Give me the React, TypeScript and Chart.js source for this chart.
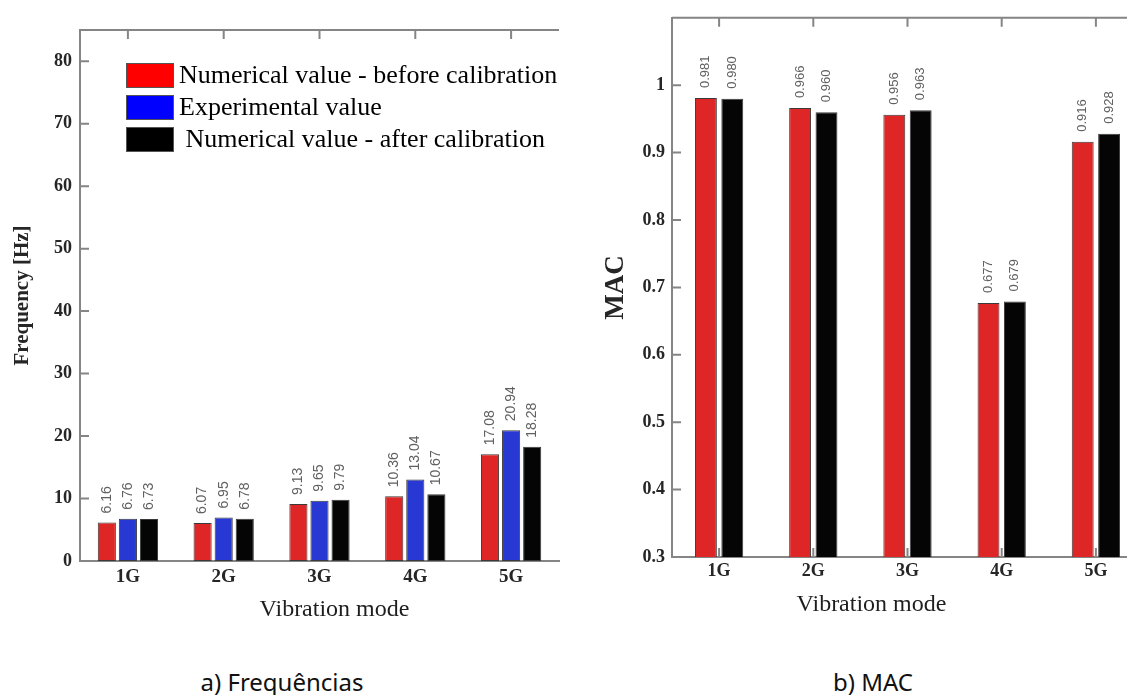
import React, { useEffect, useRef } from 'react';
import { Chart, registerables } from 'chart.js';

Chart.register(...registerables);

// ---------- data ----------
const modes = ['1G', '2G', '3G', '4G', '5G'];

const freqBefore = [6.16, 6.07, 9.13, 10.36, 17.08];
const freqExperimental = [6.76, 6.95, 9.65, 13.04, 20.94];
const freqAfter = [6.73, 6.78, 9.79, 10.67, 18.28];

const macBefore = [0.981, 0.966, 0.956, 0.677, 0.916];
const macAfter = [0.98, 0.96, 0.963, 0.679, 0.928];

const freqTicks = [0, 10, 20, 30, 40, 50, 60, 70, 80];
const macTicks = [0.3, 0.4, 0.5, 0.6, 0.7, 0.8, 0.9, 1.0];

const seriesLabels = [
  'Numerical value - before calibration',
  'Experimental value',
  ' Numerical value - after calibration',
];

// ---------- styles ----------
const BAR_RED = '#df2626';
const BAR_BLUE = '#2838d2';
const BAR_BLACK = '#050505';
const LEGEND_COLORS = ['#ff0000', '#0000ff', '#000000'];
const AXIS_COLOR = '#858585';
const TEXT_COLOR = '#262626';
const SERIF = '"Liberation Serif", "DejaVu Serif", serif';
const SANS = '"Liberation Sans", Arial, sans-serif';

// ---------- plugins ----------
const framePlugin = {
  id: 'frame',
  beforeDatasetsDraw(chart: any, _args: any, opts: any) {
    const { ctx, chartArea } = chart;
    const { left, right, top, bottom } = chartArea;
    const xs = chart.scales.x;
    const ys = chart.scales.y;
    const L = opts.tick;
    ctx.save();
    ctx.strokeStyle = opts.color;
    ctx.lineWidth = opts.width;
    ctx.beginPath();
    ctx.moveTo(left, top);
    ctx.lineTo(right, top);
    ys.ticks.forEach((_t: any, i: number) => {
      const py = ys.getPixelForTick(i);
      ctx.moveTo(left, py);
      ctx.lineTo(left + L, py);
    });
    xs.ticks.forEach((_t: any, i: number) => {
      const px = xs.getPixelForTick(i);
      ctx.moveTo(px, top);
      ctx.lineTo(px, top + L);
      ctx.moveTo(px, bottom);
      ctx.lineTo(px, bottom - L);
    });
    ctx.stroke();
    ctx.restore();
  },
};

const valueLabelsPlugin = {
  id: 'valueLabels',
  afterDatasetsDraw(chart: any, _args: any, opts: any) {
    const ctx = chart.ctx;
    ctx.save();
    ctx.font = opts.font;
    ctx.fillStyle = opts.color;
    ctx.textAlign = 'left';
    ctx.textBaseline = 'middle';
    chart.data.datasets.forEach((ds: any, di: number) => {
      const meta = chart.getDatasetMeta(di);
      meta.data.forEach((el: any, i: number) => {
        const v = ds.data[i];
        ctx.save();
        ctx.translate(el.x, el.y - opts.gap);
        ctx.rotate(-Math.PI / 2);
        ctx.fillText(Number(v).toFixed(opts.decimals), 0, 0);
        ctx.restore();
      });
    });
    ctx.restore();
  },
};

const boxLegendPlugin = {
  id: 'boxLegend',
  afterDraw(chart: any, _args: any, opts: any) {
    if (!opts || !opts.display) return;
    const { ctx, chartArea } = chart;
    ctx.save();
    ctx.font = opts.font;
    ctx.textAlign = 'left';
    ctx.textBaseline = 'middle';
    chart.data.datasets.forEach((ds: any, i: number) => {
      const bx = chartArea.left + opts.x;
      const by = chartArea.top + opts.y + i * opts.rowGap;
      ctx.fillStyle = opts.colors[i];
      ctx.fillRect(bx, by, opts.boxW, opts.boxH);
      ctx.strokeStyle = '#555';
      ctx.lineWidth = 1;
      ctx.strokeRect(bx + 0.5, by + 0.5, opts.boxW - 1, opts.boxH - 1);
      ctx.fillStyle = '#000';
      ctx.fillText(ds.label, bx + opts.boxW + 5, by + opts.boxH / 2 + 1);
    });
    ctx.restore();
  },
};

const xTitlePlugin = {
  id: 'xTitle',
  afterDraw(chart: any, _args: any, opts: any) {
    if (!opts || !opts.text) return;
    const { ctx, chartArea } = chart;
    ctx.save();
    ctx.font = opts.font;
    ctx.fillStyle = opts.color;
    ctx.textAlign = 'center';
    ctx.textBaseline = 'middle';
    ctx.fillText(opts.text, (chartArea.left + chartArea.right) / 2 + opts.dx, chartArea.bottom + opts.dy);
    ctx.restore();
  },
};

const plugins = [framePlugin, valueLabelsPlugin, boxLegendPlugin, xTitlePlugin];

function barDataset(label: string, data: number[], color: string) {
  return {
    label,
    data,
    backgroundColor: color,
    borderColor: '#3a3a3a',
    borderWidth: 1,
    borderSkipped: false,
  };
}

function makeFreqChart(canvas: HTMLCanvasElement) {
  return new Chart(canvas, {
    type: 'bar',
    data: {
      labels: modes,
      datasets: [
        barDataset(seriesLabels[0], freqBefore, BAR_RED),
        barDataset(seriesLabels[1], freqExperimental, BAR_BLUE),
        barDataset(seriesLabels[2], freqAfter, BAR_BLACK),
      ],
    },
    options: {
      responsive: false,
      animation: false,
      devicePixelRatio: 1,
      events: [],
      layout: { padding: { left: 10, top: 30, right: 16, bottom: 0 } },
      datasets: { bar: { categoryPercentage: 0.66, barPercentage: 0.86 } },
      scales: {
        x: {
          type: 'category',
          grid: { display: false, drawTicks: false },
          border: { display: true, color: AXIS_COLOR, width: 2 },
          ticks: { padding: 5, color: TEXT_COLOR, font: { family: SERIF, size: 19, weight: 'bold' } },
          afterFit: (s: any) => { s.height = 79; },
        },
        y: {
          type: 'linear',
          min: 0,
          max: 85,
          afterBuildTicks: (s: any) => { s.ticks = freqTicks.map((v) => ({ value: v })); },
          grid: { display: false, drawTicks: false },
          border: { display: true, color: AXIS_COLOR, width: 2 },
          ticks: { padding: 8, color: TEXT_COLOR, font: { family: SERIF, size: 18, weight: 'bold' } },
          title: {
            display: true,
            text: 'Frequency [Hz]',
            color: TEXT_COLOR,
            padding: 0,
            font: { family: SERIF, size: 21, weight: 'bold' },
          },
          afterFit: (s: any) => { s.width = 70; },
        },
      },
      plugins: {
        legend: { display: false },
        tooltip: { enabled: false },
        frame: { color: AXIS_COLOR, width: 2, tick: 9 },
        valueLabels: { font: `14px ${SANS}`, color: '#606060', gap: 9, decimals: 2 },
        boxLegend: {
          display: true,
          colors: LEGEND_COLORS,
          x: 46, y: 33, rowGap: 32, boxW: 48, boxH: 25,
          font: `26px ${SERIF}`,
        },
        xTitle: { text: 'Vibration mode', font: `24px ${SERIF}`, color: '#1e1e1e', dx: 15, dy: 49 },
      } as any,
    } as any,
    plugins: plugins as any,
  });
}

function makeMacChart(canvas: HTMLCanvasElement) {
  return new Chart(canvas, {
    type: 'bar',
    data: {
      labels: modes,
      datasets: [
        barDataset(seriesLabels[0], macBefore, BAR_RED),
        barDataset(seriesLabels[2], macAfter, BAR_BLACK),
      ],
    },
    options: {
      responsive: false,
      animation: false,
      devicePixelRatio: 1,
      events: [],
      layout: { padding: { left: 25, top: 14, right: 32, bottom: 0 } },
      datasets: { bar: { categoryPercentage: 0.56, barPercentage: 0.83 } },
      scales: {
        x: {
          type: 'category',
          grid: { display: false, drawTicks: false },
          border: { display: true, color: AXIS_COLOR, width: 2 },
          ticks: { padding: 4, color: TEXT_COLOR, font: { family: SERIF, size: 18, weight: 'bold' } },
          afterFit: (s: any) => { s.height = 83; },
        },
        y: {
          type: 'linear',
          min: 0.3,
          max: 1.1,
          afterBuildTicks: (s: any) => { s.ticks = macTicks.map((v) => ({ value: v })); },
          grid: { display: false, drawTicks: false },
          border: { display: true, color: AXIS_COLOR, width: 2 },
          ticks: {
            padding: 7,
            color: TEXT_COLOR,
            font: { family: SERIF, size: 18, weight: 'bold' },
            callback: (v: any) => (Math.abs(v - 1) < 1e-9 ? '1' : Number(v).toFixed(1)),
          },
          title: {
            display: true,
            text: 'MAC',
            color: TEXT_COLOR,
            padding: 0,
            font: { family: SERIF, size: 27, weight: 'bold' },
          },
          afterFit: (s: any) => { s.width = 72; },
        },
      },
      plugins: {
        legend: { display: false },
        tooltip: { enabled: false },
        frame: { color: AXIS_COLOR, width: 2, tick: 9 },
        valueLabels: { font: `13px ${SANS}`, color: '#606060', gap: 10, decimals: 3 },
        boxLegend: { display: false },
        xTitle: { text: 'Vibration mode', font: `24px ${SERIF}`, color: '#1e1e1e', dx: -36, dy: 48 },
      } as any,
    } as any,
    plugins: plugins as any,
  });
}

export default function App() {
  const leftRef = useRef<HTMLCanvasElement | null>(null);
  const rightRef = useRef<HTMLCanvasElement | null>(null);

  useEffect(() => {
    const c1 = leftRef.current ? makeFreqChart(leftRef.current) : null;
    const c2 = rightRef.current ? makeMacChart(rightRef.current) : null;
    return () => {
      if (c1) c1.destroy();
      if (c2) c2.destroy();
    };
  }, []);

  const captionStyle: React.CSSProperties = {
    position: 'absolute',
    top: 668,
    width: 260,
    textAlign: 'center',
    fontFamily: '"Noto Sans", "Open Sans", sans-serif',
    fontSize: 24,
    lineHeight: '28px',
    color: '#111',
  };

  return (
    <div
      style={{
        position: 'fixed',
        left: 0,
        top: 0,
        width: 1127,
        height: 695,
        overflow: 'hidden',
        background: '#ffffff',
      }}
    >
      <canvas
        ref={leftRef}
        width={575}
        height={640}
        style={{ position: 'absolute', left: 0, top: 0, width: 575, height: 640 }}
      />
      <canvas
        ref={rightRef}
        width={600}
        height={640}
        style={{ position: 'absolute', left: 575, top: 0, width: 600, height: 640 }}
      />
      <div style={{ ...captionStyle, left: 282 - 130 }}>a) Frequências</div>
      <div style={{ ...captionStyle, left: 873 - 130 }}>b) MAC</div>
    </div>
  );
}
